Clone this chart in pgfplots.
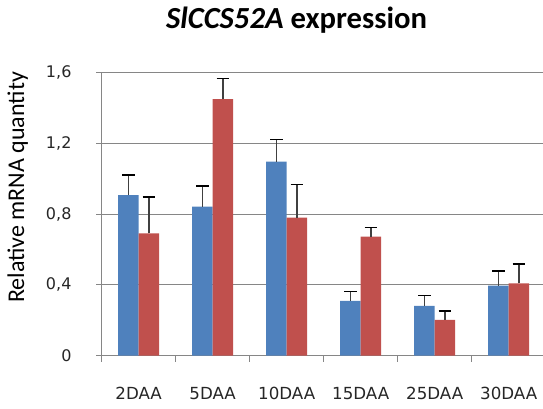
\documentclass[border=0pt]{standalone}
\usepackage{fontspec}
\setmainfont{DejaVu Sans}
\newfontfamily\calibri{Carlito}
\usepackage{pgfplots}
\pgfplotsset{compat=1.18}
\definecolor{exblue}{HTML}{4F81BD}
\definecolor{exred}{HTML}{C0504D}
\definecolor{axgray}{HTML}{868686}
\definecolor{errc}{HTML}{404040}
\begin{document}
\begin{tikzpicture}
\begin{axis}[
  at={(76.275pt,39.225pt)}, anchor=south west,
  scale only axis, width=330.75pt, height=212.55pt,
  xmin=-0.5, xmax=5.46, ymin=0, ymax=1.6,
  axis lines*=left,
  axis line style={axgray, line width=0.75pt},
  tick align=outside,
  ybar=0pt, bar width=0.277,
  xtick={0,1,2,3,4,5},
  xticklabels={2DAA,5DAA,10DAA,15DAA,25DAA,30DAA},
  minor xtick={-0.5,0.5,1.5,2.5,3.5,4.5},
  major x tick style={draw=none},
  minor x tick style={axgray, line width=0.75pt},
  minor tick length=4.5pt,
  ytick={0,0.4,0.8,1.2,1.6},
  major y tick style={axgray, line width=0.75pt},
  major tick length=4pt,
  ymajorgrids, grid style={axgray, line width=0.75pt},
  /pgf/number format/assume math mode=true,
  /pgf/number format/use comma,
  yticklabel style={/pgf/number format/fixed, /pgf/number format/precision=1, font=\fontsize{12}{14}\selectfont, text=black!85, inner sep=0pt, anchor=east, xshift=-18.5pt},
  xticklabel style={font=\fontsize{12.5}{14}\selectfont, text=black!85, inner sep=0pt, anchor=north, yshift=-19.5pt},
  error bars/y dir=plus, error bars/y explicit,
  error bars/error bar style={errc, line width=1.1pt},
  error bars/error mark options={rotate=90, black, mark size=4.8pt, line width=1.1pt},
]
\addplot[fill=exblue, draw=none] coordinates {
  (0,0.907) +- (0,0.113)
  (1,0.841) +- (0,0.117)
  (2,1.096) +- (0,0.124)
  (3,0.310) +- (0,0.051)
  (4,0.282) +- (0,0.059)
  (5,0.395) +- (0,0.083)
};
\addplot[fill=exred, draw=none] coordinates {
  (0,0.690) +- (0,0.206)
  (1,1.449) +- (0,0.115)
  (2,0.779) +- (0,0.189)
  (3,0.672) +- (0,0.053)
  (4,0.202) +- (0,0.050)
  (5,0.409) +- (0,0.109)
};
\end{axis}
\node[anchor=base] at (222.4pt,284.25pt) {\calibri\fontsize{23}{26}\selectfont\bfseries\textit{SlCCS52A} expression};
\node[rotate=90, anchor=base] at (18pt,165.4pt) {\calibri\fontsize{18}{20}\selectfont Relative mRNA quantity};
\pgfresetboundingbox
\useasboundingbox (0,0) rectangle (407.25pt,306pt);
\end{tikzpicture}
\end{document}
